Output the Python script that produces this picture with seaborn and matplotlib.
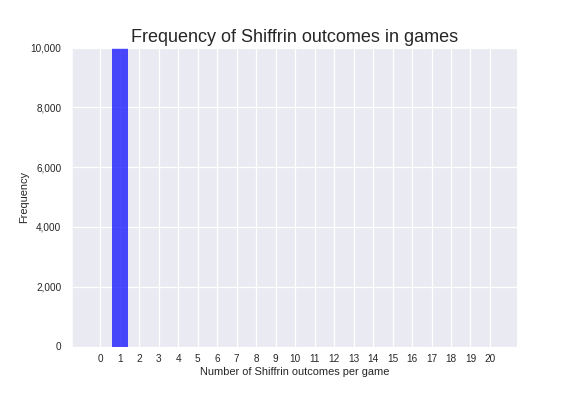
import numpy as np
import pandas as pd
import matplotlib
matplotlib.use("Agg")
import matplotlib.pyplot as plt
import matplotlib.ticker as mticker
import seaborn as sns

# outcomes per game and how many games had each outcome
outcomes = list(range(0, 21))
counts = [0, 10000, 0, 0, 0, 0, 0, 0, 0, 0, 0, 0, 0, 0, 0, 0, 0, 0, 0, 0, 0]
y_ticks = [0, 2000, 4000, 6000, 8000, 10000]

df = pd.DataFrame({"outcome": outcomes, "count": counts})

sns.set_style("darkgrid")
plt.rcParams["font.family"] = ["Liberation Sans", "DejaVu Sans"]

fig, ax = plt.subplots(figsize=(8, 5.5), dpi=72)
fig.subplots_adjust(left=0.125, right=0.898, top=0.88, bottom=0.125)

sns.histplot(data=df, x="outcome", weights="count", discrete=True, shrink=0.8,
             color="blue", alpha=0.7, linewidth=0, ax=ax)

ax.set_xlim(-1.45, 21.4)
ax.set_ylim(0, 10000)
ax.set_xticks(outcomes)
ax.set_yticks(y_ticks)
ax.yaxis.set_major_formatter(mticker.FuncFormatter(lambda v, p: f"{int(v):,}"))
ax.grid(color="white", linewidth=1.2)
ax.tick_params(axis="y", labelsize=10, colors="#262626", pad=7)
ax.tick_params(axis="x", labelsize=10, colors="#262626", pad=4)
ax.set_xlabel("Number of Shiffrin outcomes per game", fontsize=11, color="#262626", labelpad=3)
ax.set_ylabel("Frequency", fontsize=11, color="#262626", labelpad=2)
ax.set_title("Frequency of Shiffrin outcomes in games", fontsize=18, color="#262626")

fig.savefig("out.png", dpi=72)
